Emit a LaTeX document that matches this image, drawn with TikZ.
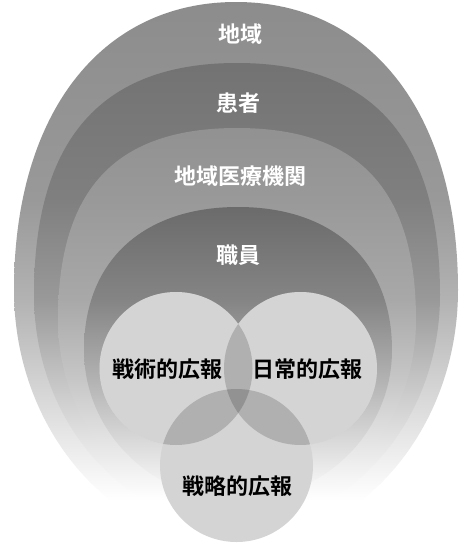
\documentclass[tikz,border=0pt]{standalone}
\usepackage{fontspec}
\newfontfamily\jp[BoldFont={* Bold}]{Noto Sans CJK JP}
% vertical fades: 25bp = bottom of path, 75bp = top of path
\pgfdeclareverticalshading{shA}{100bp}{color(0bp)=(white); color(29.1bp)=(white); color(34.7bp)=(black!9); color(40.2bp)=(black!18); color(47.6bp)=(black!30); color(56.8bp)=(black!40); color(75bp)=(black!45); color(100bp)=(black!45)}
\pgfdeclareverticalshading{shB}{100bp}{color(0bp)=(white); color(27.7bp)=(white); color(34.2bp)=(black!11); color(40.7bp)=(black!23); color(49.4bp)=(black!40); color(60.2bp)=(black!50); color(75bp)=(black!55); color(100bp)=(black!55)}
\pgfdeclareverticalshading{shC}{100bp}{color(0bp)=(white); color(26.9bp)=(white); color(34.7bp)=(black!11); color(42.4bp)=(black!22); color(52.8bp)=(black!34); color(65.7bp)=(black!40); color(75bp)=(black!43); color(100bp)=(black!43)}
\pgfdeclareverticalshading{shD}{100bp}{color(0bp)=(white); color(25bp)=(white); color(35.2bp)=(black!15); color(45.5bp)=(black!30); color(59.1bp)=(black!48); color(75bp)=(black!58); color(100bp)=(black!58)}
% egg: xc yc rx rytop rybottom ktop shading
\newcommand\egg[7]{%
  \shade[shading=#7]
  ({#1-#3},{#2}) .. controls ({#1-#3},{#2-#6*#4}) and ({#1-#6*#3},{#2-#4}) .. ({#1},{#2-#4})
  .. controls ({#1+#6*#3},{#2-#4}) and ({#1+#3},{#2-#6*#4}) .. ({#1+#3},{#2})
  .. controls ({#1+#3},{#2+0.552*#5}) and ({#1+0.552*#3},{#2+#5}) .. ({#1},{#2+#5})
  .. controls ({#1-0.552*#3},{#2+#5}) and ({#1-#3},{#2+0.552*#5}) .. ({#1-#3},{#2}) -- cycle;}
\tikzset{
  wlabel/.style={text=white, font=\jp\bfseries\fontsize{22}{26}\selectfont, inner sep=0pt},
  blabel/.style={text=black, font=\jp\bfseries\fontsize{22}{26}\selectfont, inner sep=0pt},
  vennbase/.style={fill=white},
  venntint/.style={fill=black, fill opacity=0.17}
}
\begin{document}
\begin{tikzpicture}[x=1pt,y=-1pt]
\useasboundingbox[fill=white] (0,0) rectangle (462,544);
% nested regions
\egg{236}{290}{222}{288}{255}{0.61}{shA}
\egg{237}{295}{203}{232}{230}{0.67}{shB}
\egg{237}{320}{179}{192}{195}{0.68}{shC}
\egg{238}{350}{154}{143}{150}{0.62}{shD}
% Venn circles
\coordinate (cL) at (176,368.5);
\coordinate (cR) at (300.5,368.5);
\coordinate (cB) at (236.5,465.5);
\fill[vennbase] (cL) circle[radius=76.5] (cR) circle[radius=76.5] (cB) circle[radius=76.5];
\fill[venntint] (cL) circle[radius=76.5];
\fill[venntint] (cR) circle[radius=76.5];
\fill[venntint] (cB) circle[radius=76.5];
% labels
\node[wlabel] (chiiki) at (240,34) {地域};
\node[wlabel] (kanja) at (238,103) {患者};
\node[wlabel] (iryou) at (240,176) {地域医療機関};
\node[wlabel] (shokuin) at (238,255) {職員};
\node[blabel] (senjutsu) at (167,369) {戦術的広報};
\node[blabel] (nichijou) at (307,369) {日常的広報};
\node[blabel] (senryaku) at (237.5,486) {戦略的広報};
\end{tikzpicture}
\end{document}
